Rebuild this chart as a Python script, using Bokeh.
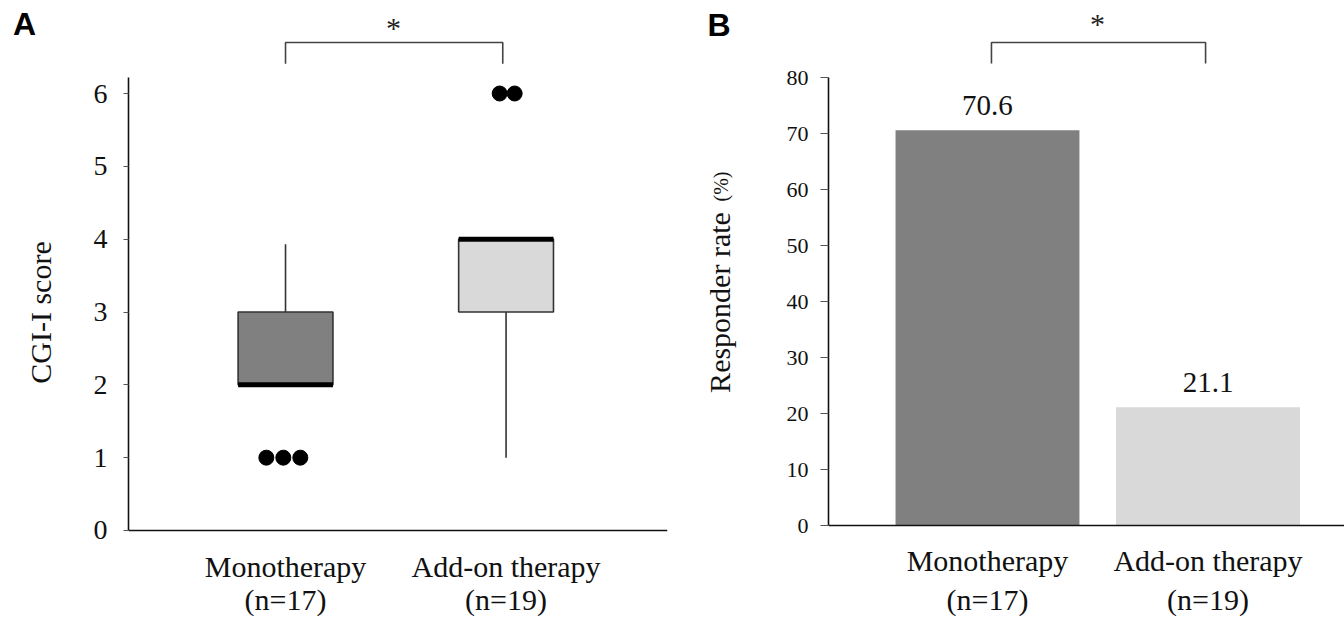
import math
from bokeh.plotting import figure
from bokeh.layouts import row
from bokeh.models import FixedTicker, Range1d, ColumnDataSource
from bokeh.core.properties import value
from bokeh.embed import file_html
from bokeh.resources import INLINE

# ---------------- data ----------------
groups = ["Monotherapy", "Add-on therapy"]
group_n = ["(n=17)", "(n=19)"]
group_pos = [1, 2]

# Panel A: CGI-I score box plot
cgi_q1 = [2.0, 3.0]
cgi_median = [2.0, 4.0]
cgi_q3 = [3.0, 4.0]
cgi_whisker_low = [2.0, 1.0]
cgi_whisker_high = [3.93, 4.0]
cgi_outliers_mono = [1, 1, 1]
cgi_outliers_addon = [6, 6]
cgi_ticks = [0, 1, 2, 3, 4, 5, 6]

# Panel B: responder rate (%)
responder_rate = [70.6, 21.1]
rate_labels = ["70.6", "21.1"]
rate_ticks = [0, 10, 20, 30, 40, 50, 60, 70, 80]

fills = ["#808080", "#d9d9d9"]
SERIF = "Liberation Serif"
SANS = "Liberation Sans"
H = 618
INK = "#111111"


def clean(p):
    p.outline_line_color = None
    p.grid.visible = False
    p.background_fill_color = "white"
    p.border_fill_color = "white"


def base_axis(p):
    xa = p.xaxis[0]
    xa.fixed_location = 0
    xa.ticker = FixedTicker(ticks=[])
    xa.major_tick_in = 0
    xa.major_tick_out = 0
    xa.minor_tick_line_color = None
    xa.major_label_standoff = 0
    xa.axis_line_width = 1.6
    xa.axis_line_color = INK


def value_axis(p, yticks, ybounds, font_size, tick_out, standoff):
    ya = p.yaxis[0]
    ya.ticker = FixedTicker(ticks=yticks)
    ya.bounds = ybounds
    ya.minor_tick_line_color = None
    ya.major_tick_in = 0
    ya.major_tick_out = tick_out
    ya.major_tick_line_color = "#555555"
    ya.axis_line_width = 1.6
    ya.axis_line_color = INK
    ya.major_label_text_font = SERIF
    ya.major_label_text_font_size = font_size
    ya.major_label_text_color = INK
    ya.major_label_standoff = standoff


def category_labels(p, off1, off2):
    zeros = [0] * len(group_pos)
    p.text(x=group_pos, y=zeros, text=groups, y_offset=off1, text_align="center",
           text_baseline="middle", text_font=value(SERIF), text_font_size="30px", text_color=INK)
    p.text(x=group_pos, y=zeros, text=group_n, y_offset=off2, text_align="center",
           text_baseline="middle", text_font=value(SERIF), text_font_size="30px", text_color=INK)


def side_panel(width):
    s = figure(width=width, height=H, x_range=Range1d(0, width), y_range=Range1d(0, H),
               x_axis_type=None, y_axis_type=None, output_backend="svg", toolbar_location=None,
               min_border_left=0, min_border_right=0, min_border_top=0, min_border_bottom=0)
    clean(s)
    return s


# ---------------- panel A: side texts ----------------
sa = side_panel(60)
sa.text(x=[24], y=[H - 23.5], text=["A"], text_align="center", text_baseline="middle",
        text_font=value(SANS), text_font_style="bold", text_font_size="32px", text_color="black")
sa.text(x=[40], y=[H - 312], text=["CGI-I score"], angle=math.pi / 2, text_align="center",
        text_baseline="middle", text_font=value(SERIF), text_font_size="30px", text_color=INK)

# ---------------- panel A: box plot ----------------
pa = figure(width=612, height=H, x_range=Range1d(0.288, 2.732), y_range=Range1d(-1.2083, 7.277),
            output_backend="svg", toolbar_location=None,
            min_border_left=68, min_border_right=5, min_border_top=0, min_border_bottom=0)
clean(pa)
base_axis(pa)
value_axis(pa, cgi_ticks, (0, 6.22), "28px", 5, 16)
category_labels(pa, 36, 69)

box_w = 0.43
src_a = ColumnDataSource(dict(x=group_pos, q1=cgi_q1, q3=cgi_q3, med=cgi_median,
                              lo=cgi_whisker_low, hi=cgi_whisker_high, fill=fills))
pa.segment(x0="x", y0="q3", x1="x", y1="hi", source=src_a, line_color="#333333", line_width=1.6)
pa.segment(x0="x", y0="q1", x1="x", y1="lo", source=src_a, line_color="#333333", line_width=1.6)
pa.vbar(x="x", width=box_w, top="q3", bottom="q1", source=src_a, fill_color="fill",
        line_color="#333333", line_width=1.6)
pa.rect(x="x", y="med", width=box_w, height=5, height_units="screen", source=src_a,
        fill_color="black", line_color=None)

mono_x = [group_pos[0] - 0.01 + 0.077 * (i - 1) for i in range(len(cgi_outliers_mono))]
add_x = [group_pos[1] + 0.005 + 0.068 * (i - 0.5) for i in range(len(cgi_outliers_addon))]
pa.scatter(mono_x, cgi_outliers_mono, size=15, color="black")
pa.scatter(add_x, cgi_outliers_addon, size=15, color="black")

# significance bracket A
pa.line([1.0, 1.0, 1.985, 1.985], [6.41, 6.70, 6.70, 6.41], line_color="#444444", line_width=1.6)
pa.text(x=[1.49], y=[6.906], text=["*"], text_align="center", text_baseline="middle",
        text_font=value(SERIF), text_font_size="30px", text_color="#222222")

# ---------------- panel B: side texts ----------------
sb = side_panel(88)
sb.text(x=[46.5], y=[H - 24], text=["B"], text_align="center", text_baseline="middle",
        text_font=value(SANS), text_font_style="bold", text_font_size="32px", text_color="black")
sb.text(x=[47], y=[H - 302], text=["Responder rate"], angle=math.pi / 2, text_align="center",
        text_baseline="middle", text_font=value(SERIF), text_font_size="30px", text_color=INK)
sb.text(x=[48], y=[H - 186], text=["(%)"], angle=math.pi / 2, text_align="center",
        text_baseline="middle", text_font=value(SERIF), text_font_size="20px", text_color=INK)

# ---------------- panel B: bars ----------------
pb = figure(width=584, height=H, x_range=Range1d(0.279, 2.619), y_range=Range1d(-16.607, 93.75),
            output_backend="svg", toolbar_location=None,
            min_border_left=68, min_border_right=0, min_border_top=0, min_border_bottom=0)
clean(pb)
base_axis(pb)
value_axis(pb, rate_ticks, (0, 80), "22px", 8, 12)
category_labels(pb, 35, 74)

src_b = ColumnDataSource(dict(x=group_pos, top=responder_rate, fill=fills, lab=rate_labels))
pb.vbar(x="x", width=0.834, top="top", bottom=0, source=src_b, fill_color="fill", line_color=None)
pb.text(x="x", y="top", text="lab", source=src_b, y_offset=-25, text_align="center",
        text_baseline="middle", text_font=value(SERIF), text_font_size="29px", text_color=INK)

pb.line([1.018, 1.018, 1.989, 1.989], [82.5, 86.25, 86.25, 82.5], line_color="#444444", line_width=1.6)
pb.text(x=[1.499], y=[89.6], text=["*"], text_align="center", text_baseline="middle",
        text_font=value(SERIF), text_font_size="30px", text_color="#222222")

layout = row(sa, pa, sb, pb)
open("out.html", "w").write(file_html(layout, INLINE))
